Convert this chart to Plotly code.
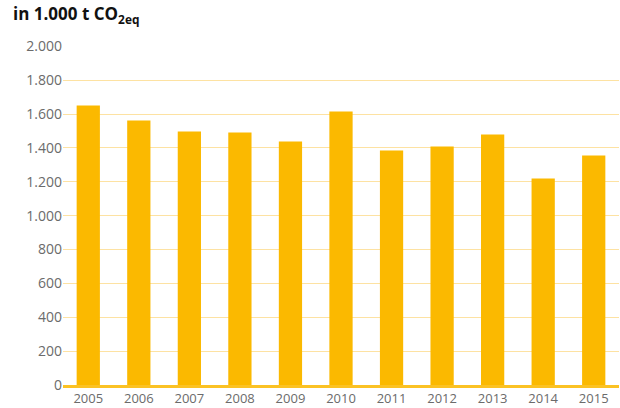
import plotly.graph_objects as go

years = ["2005", "2006", "2007", "2008", "2009", "2010", "2011", "2012", "2013", "2014", "2015"]
emissions = [1650, 1562, 1497, 1491, 1438, 1615, 1385, 1409, 1479, 1220, 1356]
y_ticks = [0, 200, 400, 600, 800, 1000, 1200, 1400, 1600, 1800, 2000]

fig = go.Figure(go.Bar(x=years, y=emissions, marker=dict(color="#FBB900", line=dict(width=0)),
                       hoverinfo="x+y"))

fig.update_layout(
    width=620, height=408,
    margin=dict(l=63, r=1, t=46, b=23, autoexpand=False),
    paper_bgcolor="white", plot_bgcolor="white",
    separators=",.",
    bargap=0.54,
    showlegend=False,
    font=dict(family="Open Sans, sans-serif", color="#6b6b6b", size=14),
    xaxis=dict(type="category", showgrid=False, showline=True, linecolor="#FBC224", linewidth=2.5,
               ticks="", tickfont=dict(size=13, color="#6b6b6b"), fixedrange=True, automargin=False,
               ticklabelstandoff=0),
    yaxis=dict(range=[0, 2002], tickvals=y_ticks, tickformat=",d", showgrid=True,
               gridcolor="#FDE2A2", gridwidth=1.3, zeroline=False, showline=False,
               ticks="", ticklen=0, tickfont=dict(size=14, color="#6b6b6b"), fixedrange=True,
               automargin=False),
    annotations=[dict(text="<b>in 1.000 t CO<sub>2eq</sub></b>", xref="paper", yref="paper",
                      x=-63/556, y=1, xanchor="left", yanchor="bottom", yshift=17, xshift=11,
                      showarrow=False, font=dict(size=17, color="#111111", family="Open Sans, sans-serif"))],
)

fig.write_html("out.html", config={"displayModeBar": False},
               post_script="document.body.style.margin='0';")
